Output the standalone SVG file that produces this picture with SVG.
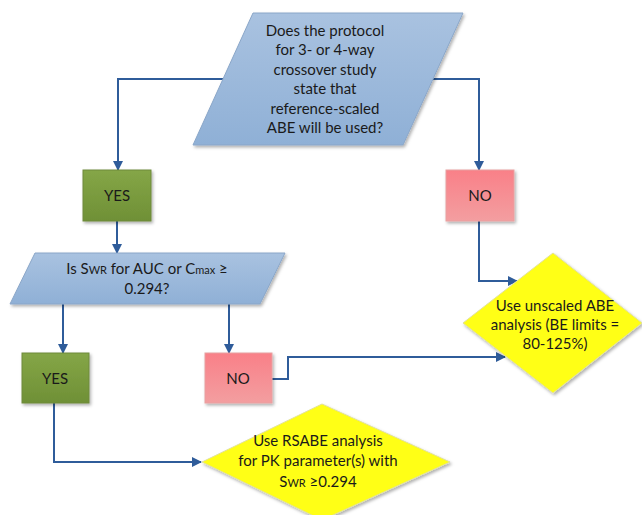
<svg xmlns="http://www.w3.org/2000/svg" width="642" height="515" viewBox="0 0 642 515">
<style>
text{font-family:Lato,"Liberation Sans",sans-serif;font-size:15px;fill:#1a1a1a;text-anchor:middle}
.c{fill:none;stroke:#2f5c9a;stroke-width:2}
.para{fill:url(#gb);stroke:#8aa6c8;stroke-width:1}
.yes{fill:url(#gg);stroke:#6e8a3c;stroke-width:1}
.no{fill:url(#gr);stroke:#e8a0a0;stroke-width:1}
.dia{fill:#ffff14;stroke:#e2e29a;stroke-width:1}
.sm{font-size:11px}
</style>
<defs>
<linearGradient id="gb" x1="0" y1="0" x2="0" y2="1"><stop offset="0" stop-color="#a9c2e0"/><stop offset="1" stop-color="#8fb0d6"/></linearGradient>
<linearGradient id="gg" x1="0" y1="0" x2="0" y2="1"><stop offset="0" stop-color="#85a647"/><stop offset="1" stop-color="#6f9036"/></linearGradient>
<linearGradient id="gr" x1="0" y1="0" x2="0" y2="1"><stop offset="0" stop-color="#f98088"/><stop offset="1" stop-color="#f39ea0"/></linearGradient>
<filter id="sh" x="-10%" y="-10%" width="130%" height="130%"><feDropShadow dx="1.5" dy="2" stdDeviation="1.5" flood-color="#000" flood-opacity="0.3"/></filter>
<marker id="ar" viewBox="0 0 10 10" refX="9" refY="5" markerWidth="5" markerHeight="5" orient="auto"><path d="M0,0L10,5L0,10z" fill="#2f5c9a"/></marker>
</defs>
<g id="connectors">
<path class="c" d="M223,79H118V170" marker-end="url(#ar)"/>
<path class="c" d="M433,79H479V170" marker-end="url(#ar)"/>
<path class="c" d="M117,221V253" marker-end="url(#ar)"/>
<path class="c" d="M479,221V281H517" marker-end="url(#ar)"/>
<path class="c" d="M63,304V353" marker-end="url(#ar)"/>
<path class="c" d="M229,304V353" marker-end="url(#ar)"/>
<path class="c" d="M272,379H288V357H505" marker-end="url(#ar)"/>
<path class="c" d="M54,403V462H201" marker-end="url(#ar)"/>
</g>
<g id="q1">
<polygon class="para" filter="url(#sh)" points="253,13 463,13 403,145 193,145"/>
<text x="325" y="36">Does the protocol</text>
<text x="325" y="55">for 3- or 4-way</text>
<text x="325" y="75">crossover study</text>
<text x="325" y="94">state that</text>
<text x="325" y="114">reference-scaled</text>
<text x="325" y="133">ABE will be used?</text>
</g>
<g id="yes1">
<rect class="yes" filter="url(#sh)" x="83" y="170" width="68" height="51"/>
<text x="117" y="201">YES</text>
</g>
<g id="no1">
<rect class="no" filter="url(#sh)" x="446" y="170" width="68" height="51"/>
<text x="480" y="201">NO</text>
</g>
<g id="q2">
<polygon class="para" filter="url(#sh)" points="35,253 285,253 260,304 10,304"/>
<text x="147" y="274">Is S<tspan class="sm">WR</tspan> for AUC or C<tspan class="sm">max</tspan> ≥</text>
<text x="147" y="294">0.294?</text>
</g>
<g id="yes2">
<rect class="yes" filter="url(#sh)" x="22" y="353" width="67" height="50"/>
<text x="55" y="384">YES</text>
</g>
<g id="no2">
<rect class="no" filter="url(#sh)" x="205" y="353" width="67" height="50"/>
<text x="238" y="384">NO</text>
</g>
<g id="abe">
<polygon class="dia" filter="url(#sh)" points="553,253 642,323 553,393 463,323"/>
<text x="555" y="311">Use unscaled ABE</text>
<text x="555" y="330">analysis (BE limits =</text>
<text x="555" y="349">80-125%)</text>
</g>
<g id="rsabe">
<polygon class="dia" filter="url(#sh)" points="322,404 450,462 322,520 202,462"/>
<text x="318" y="446">Use RSABE analysis</text>
<text x="318" y="466">for PK parameter(s) with</text>
<text x="318" y="487">S<tspan class="sm">WR</tspan> ≥0.294</text>
</g>
</svg>
